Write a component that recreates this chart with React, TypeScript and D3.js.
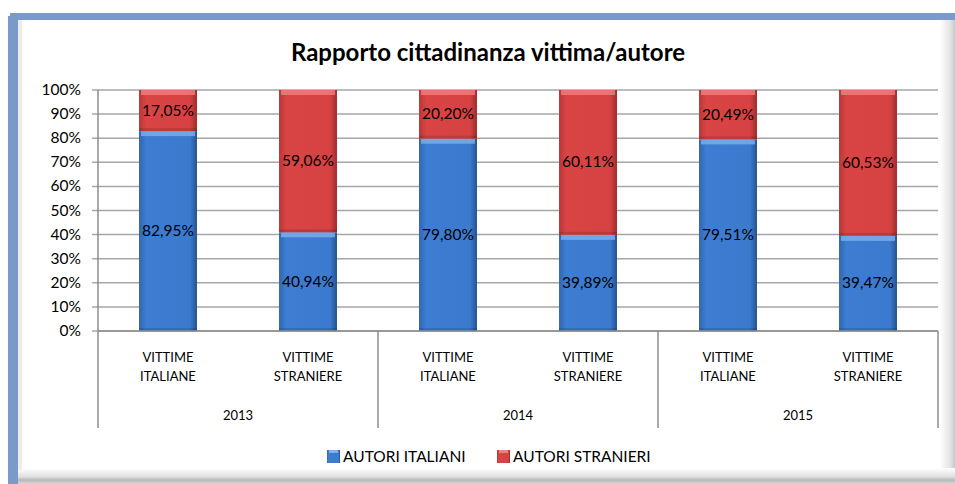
import React from 'react';
import * as d3 from 'd3';

const years = ['2013', '2014', '2015'];
const victims = ['VITTIME ITALIANE', 'VITTIME STRANIERE'];
const autoriItaliani = [82.95, 40.94, 79.8, 39.89, 79.51, 39.47];
const autoriStranieri = [17.05, 59.06, 20.2, 60.11, 20.49, 60.53];
const yTicks = [0, 10, 20, 30, 40, 50, 60, 70, 80, 90, 100];
const seriesNames = ['AUTORI ITALIANI', 'AUTORI STRANIERI'];

const W = 955;
const H = 484;
const left = 98;
const right = 938;
const top = 90;
const bottom = 331;
const font = 'Lato, "Open Sans", sans-serif';

const fmt = (v: number) => v.toFixed(2).replace('.', ',') + '%';

export default function App() {
  const bars = years.flatMap((yr, gi) =>
    victims.map((v, vi) => ({ year: yr, label: v, i: gi * 2 + vi }))
  );
  const x = d3
    .scaleBand<number>()
    .domain(bars.map(b => b.i))
    .range([left, right])
    .paddingInner(0.586)
    .paddingOuter(0.293);
  const y = d3.scaleLinear().domain([0, 100]).range([bottom, top]);
  const step = x.step();
  const stack = d3
    .stack<number>()
    .keys(['it', 'st'])
    .value((i, key) => (key === 'it' ? autoriItaliani[i] : autoriStranieri[i]));
  const stacked = stack(bars.map(b => b.i));
  const fills = ['url(#gBlue)', 'url(#gRed)'];
  const tops = ['#7fb0ee', '#f08080'];

  return (
    <svg
      width={W}
      height={H}
      style={{ position: 'fixed', left: 0, top: 0, background: '#fff' }}
      fontFamily={font}
    >
      <defs>
        <linearGradient id="gBlue" x1="0" x2="1" y1="0" y2="0">
          <stop offset="0" stopColor="#2f66b0" />
          <stop offset="0.12" stopColor="#3d7dd2" />
          <stop offset="0.88" stopColor="#3b7acd" />
          <stop offset="1" stopColor="#25528f" />
        </linearGradient>
        <linearGradient id="gRed" x1="0" x2="1" y1="0" y2="0">
          <stop offset="0" stopColor="#b83636" />
          <stop offset="0.12" stopColor="#d94444" />
          <stop offset="0.88" stopColor="#d64242" />
          <stop offset="1" stopColor="#9e2c2c" />
        </linearGradient>
        <linearGradient id="shR" x1="0" x2="1" y1="0" y2="0">
          <stop offset="0" stopColor="#fff" />
          <stop offset="0.7" stopColor="#e2e2e2" />
          <stop offset="1" stopColor="#c8c8c8" />
        </linearGradient>
        <linearGradient id="shB" x1="0" x2="0" y1="0" y2="1">
          <stop offset="0" stopColor="#fff" />
          <stop offset="0.55" stopColor="#e0e0e0" />
          <stop offset="0.75" stopColor="#b8b8b8" />
          <stop offset="1" stopColor="#d8d8d8" />
        </linearGradient>
      </defs>

      {/* frame */}
      <rect x={940} y={20} width={15} height={464} fill="url(#shR)" />
      <rect x={18} y={468} width={937} height={16} fill="url(#shB)" />
      <rect x={8} y={16} width={10} height={468} fill="#7a9bc7" />
      <rect x={10} y={13} width={945} height={7} fill="#7a9bc7" />
      <rect x={18} y={20} width={4} height={450} fill="#ececec" />

      <text x={488} y={61} textAnchor="middle" fontSize={24} fontWeight="bold" fill="#000">
        Rapporto cittadinanza vittima/autore
      </text>

      {/* grid */}
      {yTicks.map(t => (
        <g key={t}>
          <line x1={left - 6} x2={right} y1={y(t)} y2={y(t)} stroke="#a6a6a6" strokeWidth={1.5} />
          <text x={81} y={y(t) + 5} textAnchor="end" fontSize={15.5} fill="#000">
            {t}%
          </text>
        </g>
      ))}

      {/* bars */}
      {stacked.map((s, si) =>
        s.map((d, k) => {
          const bx = x(bars[k].i)!;
          const bw = x.bandwidth();
          const y0 = y(d[1]);
          const h = y(d[0]) - y(d[1]);
          return (
            <g key={si + '-' + k}>
              <rect x={bx} y={y0} width={bw} height={h} fill={fills[si]} />
              <rect x={bx + 2} y={y0} width={bw - 4} height={5} fill={tops[si]} opacity={0.8} />
              <rect x={bx} y={y0 + h - 3} width={bw} height={3} fill="#000" opacity={0.12} />
              <text
                x={bx + bw / 2}
                y={(y(d[0]) + y(d[1])) / 2 + 5}
                textAnchor="middle"
                fontSize={15.5}
                fill="#000"
              >
                {fmt(d[1] - d[0])}
              </text>
            </g>
          );
        })
      )}

      {/* axes */}
      <line x1={left} x2={left} y1={top} y2={428} stroke="#8c8c8c" strokeWidth={1.5} />
      {years.map((yr, gi) => {
        const gx = left + step * 2 * (gi + 1);
        return <line key={yr} x1={gx} x2={gx} y1={bottom} y2={428} stroke="#8c8c8c" strokeWidth={1.5} />;
      })}
      <line x1={left} x2={right} y1={bottom} y2={bottom} stroke="#8c8c8c" strokeWidth={1.5} />

      {bars.map(b => {
        const cx = x(b.i)! + x.bandwidth() / 2;
        const [l1, l2] = b.label.split(' ');
        return (
          <text key={b.i} textAnchor="middle" fontSize={13} fill="#000">
            <tspan x={cx} y={362}>{l1}</tspan>
            <tspan x={cx} y={381}>{l2}</tspan>
          </text>
        );
      })}
      {years.map((yr, gi) => (
        <text key={yr} x={left + step * (2 * gi + 1)} y={420} textAnchor="middle" fontSize={13} fill="#000">
          {yr}
        </text>
      ))}

      {/* legend */}
      {seriesNames.map((n, i) => {
        const lx = [327, 497][i];
        return (
          <g key={n}>
            <rect x={lx} y={450} width={13} height={13} fill={fills[i]} />
            <rect x={lx + 2} y={450} width={9} height={3} fill={tops[i]} />
            <text x={lx + 16} y={462} fontSize={15.5} fill="#000">
              {n}
            </text>
          </g>
        );
      })}
    </svg>
  );
}
